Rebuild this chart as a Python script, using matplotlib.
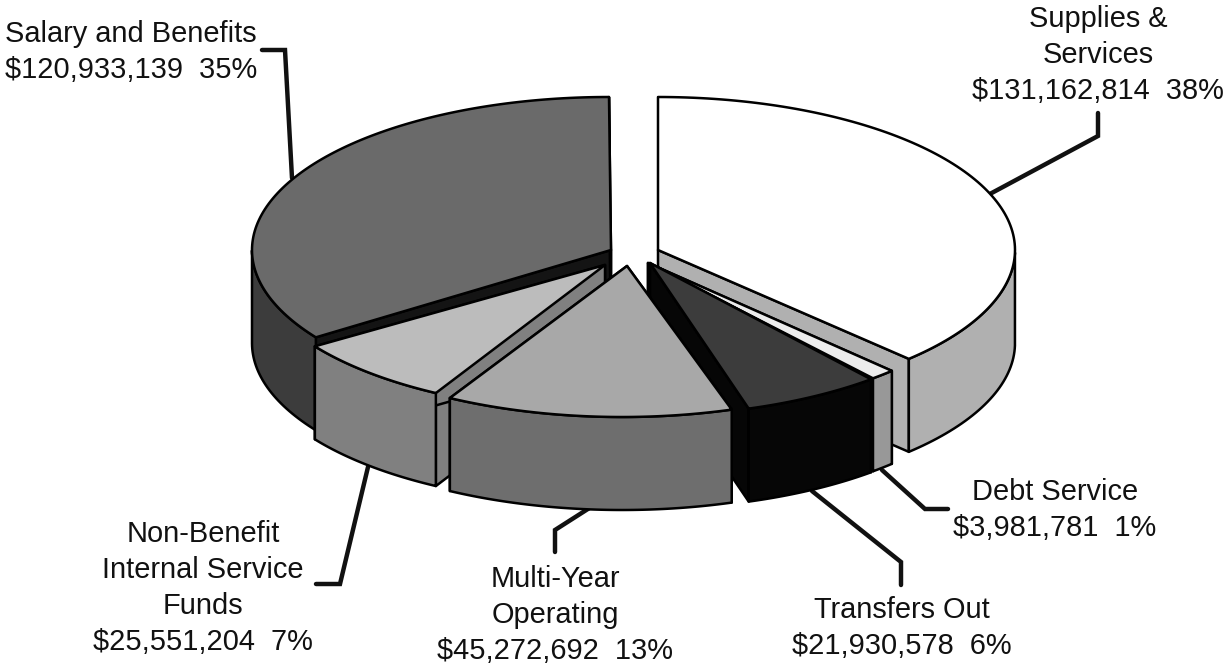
import numpy as np
import matplotlib
matplotlib.use("Agg")
import matplotlib.pyplot as plt
from matplotlib.patches import Polygon

plt.rcParams['font.family'] = ['Liberation Sans', 'DejaVu Sans']

# --- data ---
names = ["Supplies &\nServices", "Debt Service", "Transfers Out", "Multi-Year\nOperating",
         "Non-Benefit\nInternal Service\nFunds", "Salary and Benefits"]
amounts = [131162814, 3981781, 21930578, 45272692, 25551204, 120933139]
percents = [38, 1, 6, 13, 7, 35]

# --- styles / layout ---
top_colors = ['#ffffff', '#ececec', '#3c3c3c', '#a8a8a8', '#bcbcbc', '#6a6a6a']
side_colors = ['#b0b0b0', '#989898', '#060606', '#6e6e6e', '#808080', '#3c3c3c']
cut_colors = ['#b0b0b0', '#989898', '#060606', '#6e6e6e', '#808080', '#141414']
outer_shift = [(23, 0), (6, 12), (4, 13), (-13, 14), (-27, 9), (-26, 0)]
apex_shift = [(23, 0), (13, 13), (15, 13), (-8, 16), (-30, 15), (-24, 0)]
draw_order = [5, 0, 1, 2, 4, 3]
label_pos = [(1098, 5), (1055, 478), (902, 596), (555, 565), (203, 520), (5, 20)]
label_ha = ['center', 'center', 'center', 'center', 'center', 'left']
leaders = [[(1098, 113), (1098, 136), (988, 195)],
           [(882, 470), (925, 509), (948, 509)],
           [(812, 491), (901, 562), (901, 585)],
           [(591, 507), (555, 530), (555, 552)],
           [(368, 467), (340, 584), (316, 584)],
           [(262, 50), (285, 50), (292, 178)]]
CX, CY, RX, RY, DEPTH = 635, 250, 357, 153, 93

fig = plt.figure(figsize=(12.25, 6.65), dpi=100)
ax = fig.add_axes([0, 0, 1, 1])
ax.set_xlim(0, 1225)
ax.set_ylim(665, 0)
ax.axis('off')

edges = np.cumsum([0] + amounts) / sum(amounts) * 360.0
lw = 1.8
z = 2
for i in draw_order:
    t0, t1 = np.radians(edges[i]), np.radians(edges[i + 1])
    ts = np.linspace(t0, t1, 120)
    ox, oy = outer_shift[i]
    ax_, ay_ = apex_shift[i]
    apex = np.array([CX + ax_, CY + ay_])
    arc = np.column_stack([CX + ox + RX * np.sin(ts), CY + oy - RY * np.cos(ts)])
    down = np.array([0, DEPTH])
    kw = dict(edgecolor='black', linewidth=lw, joinstyle='round')
    # cut faces
    for corner in (arc[0], arc[-1]):
        ax.add_patch(Polygon([apex, corner, corner + down, apex + down],
                             facecolor=cut_colors[i], zorder=z, **kw))
        z += 1
    # outer wall (front-facing part only)
    front = np.cos(ts) < 0
    if front.any():
        a = arc[front]
        ax.add_patch(Polygon(np.vstack([a, (a + down)[::-1]]),
                             facecolor=side_colors[i], zorder=z, **kw))
        z += 1
    # top
    ax.add_patch(Polygon(np.vstack([apex, arc]), facecolor=top_colors[i], zorder=z, **kw))
    z += 1

for path in leaders:
    p = np.array(path)
    ax.plot(p[:, 0], p[:, 1], color='#111111', lw=3.2, solid_capstyle='round',
            solid_joinstyle='miter', zorder=1)

for i in range(len(names)):
    txt = f"{names[i]}\n${amounts[i]:,}  {percents[i]}%"
    ax.text(label_pos[i][0], label_pos[i][1], txt, ha=label_ha[i], va='top',
            multialignment=label_ha[i], fontsize=20.9, color='#111111', linespacing=1.37)

fig.savefig('out.png', dpi=100)
